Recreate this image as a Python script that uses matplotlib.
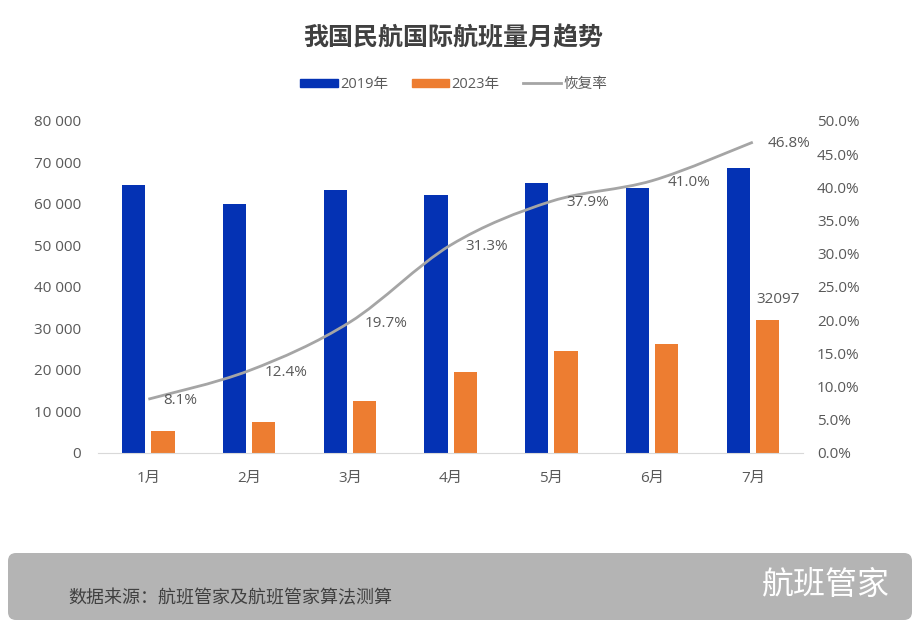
import matplotlib
matplotlib.use("Agg")
import matplotlib.pyplot as plt
from matplotlib.path import Path
from matplotlib.patches import PathPatch, FancyBboxPatch, Patch
from matplotlib.lines import Line2D
from matplotlib.ticker import FuncFormatter
import numpy as np

plt.rcParams['font.family'] = ['Open Sans', 'Noto Sans CJK SC', 'DejaVu Sans']

months = ["1月", "2月", "3月", "4月", "5月", "6月", "7月"]
flights_2019 = [64600, 60000, 63400, 62200, 65100, 63900, 68583]
flights_2023 = [5233, 7440, 12490, 19470, 24670, 26200, 32097]
recovery = [8.1, 12.4, 19.7, 31.3, 37.9, 41.0, 46.8]

blue = "#0432B4"
orange = "#ED7D31"
grey_line = "#A5A5A5"
text_grey = "#595959"
cjk = ['Noto Sans CJK SC', 'DejaVu Sans']


def smooth_path(xs, ys, k=1 / 6):
  # bezier curve through the points, like office "smoothed line"
  pts = list(zip(xs, ys))
  verts = [pts[0]]
  codes = [Path.MOVETO]
  n = len(pts)
  for i in range(n - 1):
    p0 = pts[max(i - 1, 0)]
    p1 = pts[i]
    p2 = pts[i + 1]
    p3 = pts[min(i + 2, n - 1)]
    c1 = (p1[0] + (p2[0] - p0[0]) * k, p1[1] + (p2[1] - p0[1]) * k)
    c2 = (p2[0] - (p3[0] - p1[0]) * k, p2[1] - (p3[1] - p1[1]) * k)
    verts += [c1, c2, p2]
    codes += [Path.CURVE4] * 3
  return Path(verts, codes)


fig = plt.figure(figsize=(9.2, 6.3), dpi=100)
ax = fig.add_axes([0.1065, 0.281, 0.7665, 0.527])
ax2 = ax.twinx()

x = np.arange(len(months))
w = 0.23
ax.bar(x - 0.145, flights_2019, width=w, color=blue, zorder=2)
bars23 = ax.bar(x + 0.145, flights_2023, width=w, color=orange, zorder=2)

ax.set_xlim(-0.5, len(months) - 0.5)
ax.set_ylim(0, 80000)
ax.set_yticks(range(0, 80001, 10000))
ax.yaxis.set_major_formatter(FuncFormatter(lambda v, p: f"{int(v):,}".replace(",", " ")))
ax.set_xticks(x)
ax.set_xticklabels(months)

ax2.set_ylim(0, 50)
ax2.set_yticks(np.arange(0, 50.1, 5))
ax2.yaxis.set_major_formatter(FuncFormatter(lambda v, p: f"{v:.1f}%"))

for a in (ax, ax2):
  for s in a.spines.values():
    s.set_visible(False)
  a.tick_params(length=0, colors=text_grey, labelsize=11)
ax.spines['bottom'].set_visible(True)
ax.spines['bottom'].set_color("#D9D9D9")
ax.tick_params(axis='x', pad=13)
ax.tick_params(axis='y', pad=12)
ax2.tick_params(axis='y', pad=10)

path = smooth_path(x, recovery)
ax2.add_patch(PathPatch(path, facecolor='none', edgecolor=grey_line, lw=2,
                        transform=ax2.transData, zorder=3))

for xi, r in zip(x, recovery):
  ax2.annotate(f"{r:.1f}%", (xi, r), xytext=(11, -1), textcoords='offset points',
               ha='left', va='center', fontsize=11, color=text_grey, zorder=4)

last = bars23[-1]
ax.annotate(f"{flights_2023[-1]}", (last.get_x() + last.get_width() / 2, last.get_height()),
            xytext=(8, 9), textcoords='offset points', ha='center', va='bottom',
            fontsize=11, color=text_grey)

fig.text(0.493, 0.94, "我国民航国际航班量月趋势", ha='center', va='center',
         fontsize=18, fontweight='bold', color="#404040", family=cjk)

handles = [Patch(color=blue), Patch(color=orange), Line2D([], [], color=grey_line, lw=2)]
fig.legend(handles, ["2019年", "2023年", "恢复率"], loc='center', bbox_to_anchor=(0.493, 0.866),
           ncol=3, frameon=False, fontsize=10.5, handlelength=2.6, handleheight=0.5,
           handletextpad=0.15, columnspacing=1.6, labelcolor=text_grey)

band = FancyBboxPatch((0.08, 0.1), 9.04, 0.67, boxstyle="round,pad=0,rounding_size=0.08",
                      transform=fig.dpi_scale_trans, facecolor="#B4B4B4", edgecolor='none')
fig.patches.append(band)
fig.text(0.074, 0.05, "数据来源：航班管家及航班管家算法测算", ha='left', va='center',
         fontsize=13, color="#404040", family=cjk)
fig.text(0.967, 0.072, "航班管家", ha='right', va='center', fontsize=23, color="white",
         family=cjk)

fig.savefig("out.png", dpi=100, facecolor="white")
